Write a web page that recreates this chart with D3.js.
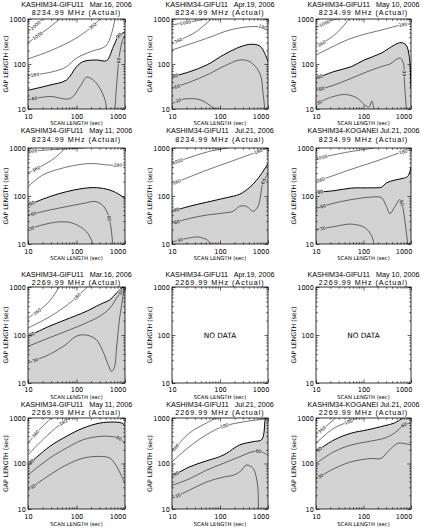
<!DOCTYPE html>
<html>
<head>
<meta charset="utf-8">
<script src="https://cdn.jsdelivr.net/npm/d3@7"></script>
<style>
  body { margin: 0; background: #fff; }
  text { font-family: "DejaVu Sans", sans-serif; fill: #000; }
</style>
</head>
<body>
<svg id="chart" width="426" height="530"></svg>
<script>
// titles
var stations = ["KASHIM34-GIFU11", "KASHIM34-GIFU11", "KASHIM34-GIFU11",
                "KASHIM34-GIFU11", "KASHIM34-GIFU11", "KASHIM34-KOGANEI"];
var dates = ["Mar.16, 2006", "Apr.19, 2006", "May 10, 2006",
             "May 11, 2006", "Jul.21, 2006", "Jul.21, 2006"];
var freqs = ["8234.99 MHz (Actual)", "2269.99 MHz (Actual)"];

var majorTicks = [10, 100, 1000];
var minorTicks = [20, 30, 40, 50, 60, 70, 80, 90, 200, 300, 400, 500, 600, 700, 800, 900];

// contours: [level, labels [text, position along line], points [scan, gap]]
var c8_mar16 = [
  ["2000", [["2000", 0.5]], [[10,520],[14,700],[20,1000]]],
  ["1000", [["1000", 0.3]], [[10,300],[25,600],[45,1000]]],
  ["360", [["360", 0.88]], [[10,130],[30,200],[100,380],[250,800],[300,1000]]],
  ["180", [["180", 0.06]], [[10,55],[30,66],[60,85],[100,135],[200,190],[400,250],[520,450],[620,1000]]],
  ["90", [["90", 0.94]], [[10,26],[28,34],[62,44],[100,87],[137,113],[259,123],[417,119],[575,243],[727,405],[1000,525]]],
  ["60", [["60", 0.06]], [[10,16],[28,19],[73,17],[117,31],[161,51],[221,44],[303,29],[386,16],[417,10]]],
  ["60", [["60", 0.65]], [[621,10],[676,37],[760,146],[890,340],[1000,440]]]
];
var c8_apr19 = [
  ["1000", [["1000", 0.4]], [[10,740],[30,900],[50,1000]]],
  ["360", [["360", 0.15]], [[10,290],[30,500],[65,1000]]],
  ["180", [["180", 0.93]], [[10,205],[53,372],[161,570],[417,675],[788,650],[1000,525]]],
  ["90", [["90", 0.03]], [[10,52],[24,68],[53,95],[117,158],[221,223],[417,273],[676,251],[855,173],[1000,113]]],
  ["60", [["60", 0.04]], [[10,29],[24,40],[53,57],[137,95],[259,123],[417,113],[676,62],[790,22],[855,10]]],
  ["30", [["30", 0.15]], [[10,13],[15,16],[24,17],[39,16],[62,12],[79,10]]]
];
var c8_may10 = [
  ["1000", [["1000", 0.4]], [[10,650],[21,920],[29,1000]]],
  ["360", [["360", 0.15]], [[10,240],[25,450],[50,1000]]],
  ["180", [["180", 0.92]], [[10,158],[55,372],[274,590],[615,735],[1000,775]]],
  ["90", [["90", 0.03]], [[10,48],[24,68],[55,87],[104,123],[234,173],[447,265],[615,298],[785,265],[920,146],[1000,30]]],
  ["60", [["60", 0.04], ["60", 0.75]], [[10,26],[24,34],[55,48],[122,68],[234,87],[380,103],[480,125],[600,135],[700,100],[720,50],[760,20],[800,10]]],
  ["30", [["30", 0.05]], [[10,13],[20,18],[40,21],[70,18],[110,12],[130,11],[150,15],[165,10]]]
];
var c8_may11 = [
  ["1000", [["1000", 0.06]], [[10,850],[30,920],[100,980],[150,1000]]],
  ["360", [["360", 0.2]], [[10,300],[30,550],[60,1000]]],
  ["180", [["180", 0.93]], [[10,156],[20,272],[62,400],[189,475],[490,440],[1000,440]]],
  ["90", [["90", 0.04]], [[10,65],[28,97],[62,123],[137,144],[259,149],[490,133],[790,105],[1000,89]]],
  ["60", [["60", 0.05], ["60", 0.78]], [[10,40],[28,51],[62,60],[137,70],[259,76],[386,56],[490,29],[556,10]]],
  ["30", [["30", 0.05]], [[10,20],[20,25],[45,29],[85,27],[161,18],[221,10]]]
];
var c8_jul21g = [
  ["1000", [["1000", 0.1]], [[10,480],[25,650],[60,850],[150,1000]]],
  ["360", [["360", 0.05], ["180", 0.9]], [[10,178],[52,343],[257,610],[790,920],[1000,1000]]],
  ["90", [["90", 0.04]], [[10,48],[23,61],[52,74],[135,92],[257,109],[415,151],[570,210],[730,290],[1000,475]]],
  ["60", [["60", 0.04], ["60", 0.93]], [[10,27],[23,34],[52,40],[115,44],[187,48],[257,61],[355,61],[490,48],[620,61],[790,193],[1000,290]]],
  ["30", [["30", 0.2]], [[10,11],[20,13],[35,14],[55,12],[65,10]]]
];
var c8_jul21k = [
  ["1000", [["1000", 0.1]], [[10,600],[40,800],[170,1000]]],
  ["360", [["360", 0.05], ["180", 0.92]], [[10,198],[55,360],[203,550],[540,775],[1000,920]]],
  ["90", [["90", 0.04]], [[10,119],[24,129],[55,146],[147,148],[239,153],[305,188],[458,215],[688,234],[850,255],[1000,390]]],
  ["60", [["60", 0.05], ["60", 0.72]], [[10,55],[24,71],[55,84],[147,95],[239,92],[305,60],[359,43],[458,60],[585,84],[655,65],[770,23],[850,10]]],
  ["30", [["30", 0.1]], [[10,20],[24,23],[55,26],[106,22],[147,15],[166,10]]]
];
var c2_mar16 = [
  ["360", [["360", 0.25]], [[10,226],[25,450],[44,1000]]],
  ["180", [["180", 0.8]], [[10,140],[30,250],[80,500],[134,815],[170,1000]]],
  ["90", [["90", 0.04]], [[10,94],[27,151],[60,209],[158,310],[300,430],[490,545],[670,750],[855,950],[920,1000]]],
  ["60", [["60", 0.95]], [[10,58],[27,87],[60,119],[158,178],[300,245],[490,365],[670,590],[855,810],[940,1000]]],
  ["30", [["30", 0.04]], [[10,26],[27,39],[60,63],[98,94],[158,100],[255,80],[350,46],[450,24],[527,17.5],[600,20.5],[670,54],[760,193],[855,430],[940,810],[1000,1000]]]
];
var c2_apr19 = null;
var c2_may10 = null;
var c2_may11 = [
  ["360", [["360", 0.35]], [[10,280],[17,550],[30,1000]]],
  ["180", [["180", 0.85]], [[10,155],[20,330],[45,710],[75,1000]]],
  ["90", [["90", 0.04]], [[10,93],[28,237],[62,395],[137,600],[304,775],[575,815],[855,775],[1000,675]]],
  ["60", [["60", 0.93]], [[10,56],[28,131],[62,218],[137,333],[304,395],[490,395],[730,363],[1000,280]]],
  ["30", [["30", 0.05]], [[10,26],[28,56],[62,93],[137,131],[304,143],[490,131],[675,86],[855,52],[1000,37]]]
];
var c2_jul21g = [
  ["360", [["360", 0.1]], [[10,182],[23,465],[52,775],[84,1000]]],
  ["180", [["180", 0.6]], [[10,109],[23,234],[52,427],[115,653],[355,843],[790,950],[920,1000]]],
  ["90", [["90", 0.04]], [[10,52],[23,84],[52,114],[98,141],[135,166],[257,256],[490,302],[730,330],[810,427],[855,775],[880,1000]]],
  ["60", [["60", 0.9]], [[10,33],[23,46],[52,71],[115,100],[257,141],[490,182],[730,182],[1000,150]]],
  ["30", [["30", 0.05]], [[10,17],[23,26],[52,39],[115,50],[187,55],[257,65],[355,92],[490,78],[570,50],[620,26],[630,10]]]
];
var c2_jul21k = [
  ["360", [["360", 0.3]], [[10,430],[26,1000]]],
  ["180", [["180", 0.8]], [[10,278],[24,600],[59,890],[75,1000]]],
  ["90", [["90", 0.04]], [[10,182],[24,330],[55,464],[122,550],[274,675],[447,775],[670,1000]]],
  ["60", [["60", 0.93]], [[10,100],[24,182],[55,255],[122,302],[274,360],[447,464],[725,710],[1000,775]]],
  ["30", [["30", 0.05]], [[10,46],[24,77],[55,109],[144,129],[234,129],[323,182],[525,278],[670,278],[1000,255]]]
];

var panels = [c8_mar16, c8_apr19, c8_may10, c8_may11, c8_jul21g, c8_jul21k,
              c2_mar16, c2_apr19, c2_may10, c2_may11, c2_jul21g, c2_jul21k];

// layout
var colX = [[28, 125], [172, 268], [316, 411]];
var rowY = [[19, 109], [148, 244], [287, 383], [418, 509]];
var titleY = [[4, 12.5], [130.6, 139], [274, 282.5], [404.5, 412.6]];
var tickLabY = [116.5, 251.5, 389.3, 516.5];
var scanLabY = [123.3, 258, 396.8, 524.5];
var gray = "#d3d3d3";

var svg = d3.select("#chart");
var defs = svg.append("defs");

panels.forEach(function(lines, i) {
  var row = Math.floor(i / 3), col = i % 3;
  var x0 = colX[col][0], x1 = colX[col][1];
  var y0 = rowY[row][0], y1 = rowY[row][1];

  var x = d3.scaleLog().domain([10, 1000]).range([x0, x1]);
  var y = d3.scaleLog().domain([10, 1000]).range([y1, y0]);

  var g = svg.append("g");

  defs.append("clipPath").attr("id", "clip" + i)
    .append("rect").attr("x", x0).attr("y", y0)
    .attr("width", x1 - x0).attr("height", y1 - y0);

  var plot = g.append("g").attr("clip-path", "url(#clip" + i + ")");

  var line = d3.line()
      .x(function(d) { return x(d[0]); })
      .y(function(d) { return y(d[1]); })
      .curve(d3.curveCatmullRom.alpha(0.5));

  if (lines) {
    // grey fill below the thick contour
    var thick = lines.filter(function(l) { return l[0] == "90"; })[0][2];
    var poly = thick.slice();
    var last = poly[poly.length - 1];
    if (last[1] >= 1000 && last[0] < 1000) poly.push([1000, 1000]);
    if (last[1] > 10) poly.push([1000, 10]);
    poly.push([10, 10]);
    plot.append("path")
      .attr("d", line(thick) + "L" + poly.slice(thick.length).map(function(d) {
        return x(d[0]) + "," + y(d[1]);
      }).join("L") + "Z")
      .style("fill", gray);

    lines.forEach(function(l) {
      var p = plot.append("path")
        .attr("d", line(l[2]))
        .style("fill", "none")
        .style("stroke", "#000")
        .style("stroke-width", l[0] == "90" ? 1.0 : 0.55);

      var node = p.node(), len = node.getTotalLength();
      l[1].forEach(function(lab) {
        var at = lab[1] * len;
        var a = node.getPointAtLength(Math.max(at - 2, 0));
        var b = node.getPointAtLength(Math.min(at + 2, len));
        var c = node.getPointAtLength(at);
        var ang = Math.atan2(b.y - a.y, b.x - a.x) * 180 / Math.PI;
        if (ang > 90) ang -= 180;
        if (ang < -90) ang += 180;
        plot.append("text")
          .attr("transform", "translate(" + c.x + "," + c.y + ") rotate(" + ang + ")")
          .attr("text-anchor", "middle")
          .attr("dy", "0.35em")
          .style("font-size", "4.5px")
          .style("paint-order", "stroke")
          .style("stroke", +lab[0] > 90 ? "#fff" : gray)
          .style("stroke-width", 1.6)
          .text(lab[0]);
      });
    });
  } else {
    g.append("text")
      .attr("x", (x0 + x1) / 2).attr("y", (y0 + y1) / 2)
      .attr("text-anchor", "middle").attr("dy", "0.35em")
      .style("font-size", "7.3px")
      .text("NO DATA");
  }

  // ticks on all four sides, pointing inward
  function ticks(axis, tr, vals, size, labels) {
    var a = g.append("g").attr("transform", tr)
      .call(axis.tickValues(vals).tickSize(-size).tickSizeOuter(0)
        .tickFormat(labels ? d3.format("d") : ""));
    a.select(".domain").remove();
    a.selectAll("line").style("stroke-width", 0.6);
    return a;
  }
  var bx = ticks(d3.axisBottom(x), "translate(0," + y1 + ")", majorTicks, 3.5, true);
  ticks(d3.axisBottom(x), "translate(0," + y1 + ")", minorTicks, 1.8, false);
  ticks(d3.axisTop(x), "translate(0," + y0 + ")", majorTicks, 3.5, false);
  ticks(d3.axisTop(x), "translate(0," + y0 + ")", minorTicks, 1.8, false);
  var ly = ticks(d3.axisLeft(y), "translate(" + x0 + ",0)", majorTicks, 3.5, true);
  ticks(d3.axisLeft(y), "translate(" + x0 + ",0)", minorTicks, 1.8, false);
  ticks(d3.axisRight(y), "translate(" + x1 + ",0)", majorTicks, 3.5, false);
  ticks(d3.axisRight(y), "translate(" + x1 + ",0)", minorTicks, 1.8, false);

  bx.selectAll("text")
    .attr("y", tickLabY[row] - y1).attr("dy", "0.35em")
    .style("font-size", "6.6px").style("font-family", "DejaVu Sans")
    .attr("text-anchor", function(d) { return d == 1000 ? "end" : "middle"; })
    .attr("x", function(d) { return d == 1000 ? 1 : 0; });
  ly.selectAll("text")
    .attr("x", -2).attr("dy", "0.35em")
    .style("font-size", "6.6px").style("font-family", "DejaVu Sans");

  g.append("rect")
    .attr("x", x0).attr("y", y0)
    .attr("width", x1 - x0).attr("height", y1 - y0)
    .style("fill", "none").style("stroke", "#000").style("stroke-width", 0.8);

  // titles
  var st = stations[(i % 6)];
  var title = st + (st.length < 16 ? "   " : " ") + dates[i % 6];
  g.append("text")
    .attr("x", (x0 + x1) / 2).attr("y", titleY[row][0])
    .attr("text-anchor", "middle").attr("dy", "0.35em")
    .attr("xml:space", "preserve").style("white-space", "pre")
    .style("font-family", "Liberation Sans")
    .style("font-size", "7.2px")
    .text(title);
  g.append("text")
    .attr("x", (x0 + x1) / 2).attr("y", titleY[row][1])
    .attr("text-anchor", "middle").attr("dy", "0.35em")
    .style("font-family", "Liberation Sans")
    .style("font-size", "7.2px").style("letter-spacing", "1px")
    .text(freqs[row < 2 ? 0 : 1]);

  g.append("text")
    .attr("x", (x0 + x1) / 2).attr("y", scanLabY[row])
    .attr("text-anchor", "middle").attr("dy", "0.35em")
    .style("font-size", "5.3px")
    .text("SCAN LENGTH (sec)");
  g.append("text")
    .attr("transform", "translate(" + (x0 - 22) + "," + ((y0 + y1) / 2) + ") rotate(-90)")
    .attr("text-anchor", "middle").attr("dy", "0.35em")
    .style("font-size", "6.2px")
    .text("GAP LENGTH (sec)");
});
</script>
</body>
</html>
